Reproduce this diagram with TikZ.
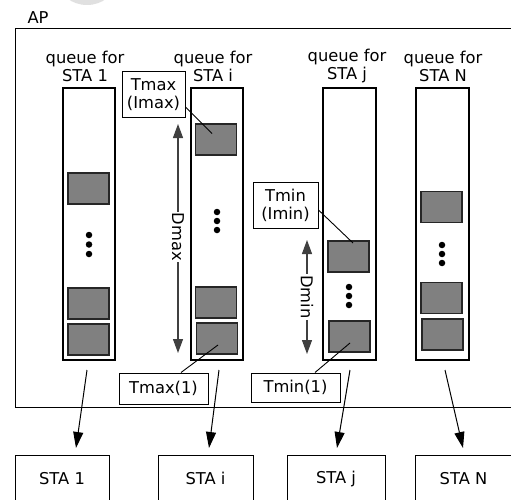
\documentclass[tikz,border=0pt]{standalone}
\usepackage{fontspec}
\setmainfont{DejaVu Sans}
\usetikzlibrary{arrows.meta}
\begin{document}
\begin{tikzpicture}[x=1pt,y=-1pt,
  every node/.style={font=\fontsize{16.3}{18}\selectfont},
  qbox/.style={draw, line width=1.1pt, minimum width=52pt, minimum height=272pt, inner sep=0},
  blk/.style={draw=black!85, line width=1.2pt, fill=black!50, minimum width=41pt, minimum height=31pt, inner sep=0},
  qdot/.style={circle, fill=black, inner sep=0, minimum size=6.5pt},
  lbl/.style={draw, line width=1pt, align=center, inner sep=0},
  qlabel/.style={align=center, inner sep=0},
  stabox/.style={draw, line width=1pt, inner sep=0, minimum height=47pt},
  darr/.style={{Triangle[width=10pt,length=14pt]}-{Triangle[width=10pt,length=14pt]}, black!75, line width=1.2pt},
  sarr/.style={-{Triangle[width=10pt,length=16pt]}, line width=1pt},
  conn/.style={line width=0.9pt}
]
\useasboundingbox (0,0) rectangle (511,500);
\clip (0,0) rectangle (511,500);
\fill[white] (0,0) rectangle (511,500);
\fill[black!12] (87,-18) ellipse (28 and 23);

% AP box
\node[anchor=center, inner sep=0] (ap) at (38,18) {AP};
\node[draw, line width=1pt, minimum width=510pt, minimum height=378pt, inner sep=0] (apbox) at (270,218) {};

% queue labels
\node[qlabel] (l1) at (85,66) {queue for\\STA 1};
\node[qlabel] (li) at (213,66) {queue for\\STA i};
\node[qlabel] (lj) at (347,66) {queue for\\STA j};
\node[qlabel] (lN) at (443,66) {queue for\\STA N};

% queues
\node[qbox] (q1) at (89,224) {};
\node[qbox] (qi) at (217,224) {};
\node[qbox, minimum width=53pt] (qj) at (349.5,224) {};
\node[qbox, minimum width=53pt] (qN) at (442.5,224) {};

% blocks queue 1
\node[blk] (b11) at (88.5,188.5) {};
\node[blk] (b12) at (88.5,303.5) {};
\node[blk] (b13) at (88.5,339.5) {};
\node[qdot] (d11) at (89,235) {};
\node[qdot] (d12) at (89,244.5) {};
\node[qdot] (d13) at (89,254) {};

% blocks queue i
\node[blk] (bi1) at (216,139.5) {};
\node[blk] (bi2) at (216,302.5) {};
\node[blk] (bi3) at (217,338.5) {};
\node[qdot] (di1) at (217,212) {};
\node[qdot] (di2) at (217,221) {};
\node[qdot] (di3) at (217,230) {};

% blocks queue j
\node[blk] (bj1) at (348.5,256.5) {};
\node[blk] (bj2) at (349.5,336.5) {};
\node[qdot] (dj1) at (349,287) {};
\node[qdot] (dj2) at (349,296) {};
\node[qdot] (dj3) at (349,305) {};

% blocks queue N
\node[blk] (bN1) at (441.5,207) {};
\node[blk] (bN2) at (441.5,298) {};
\node[blk] (bN3) at (442.5,334.5) {};
\node[qdot] (dN1) at (442,245) {};
\node[qdot] (dN2) at (442,254) {};
\node[qdot] (dN3) at (442,263) {};

% label boxes
\node[lbl, minimum width=63pt, minimum height=46pt] (tmax) at (153.5,95) {Tmax\\(Imax)};
\node[lbl, minimum width=65pt, minimum height=46pt] (tmin) at (285.5,205) {Tmin\\(Imin)};
\node[lbl, minimum width=89pt, minimum height=31pt] (tmax1) at (163.5,388.5) {Tmax(1)};
\node[lbl, minimum width=89pt, minimum height=29pt] (tmin1) at (295.5,387.5) {Tmin(1)};

\draw[conn] ([yshift=-12pt]tmax.east) -- ([xshift=-4pt,yshift=6pt]bi1.center);
\draw[conn] ([yshift=-5pt]tmin.east) -- ([xshift=4.5pt,yshift=13.5pt]bj1.center);
\draw[conn] ([xshift=17.5pt]tmax1.north) -- ([xshift=1pt,yshift=-6.5pt]bi3.center);
\draw[conn] ([xshift=19.5pt]tmin1.north) -- ([xshift=0.5pt,yshift=-6.5pt]bj2.center);

% D arrows
\coordinate (dmaxT) at (178,124);
\coordinate (dmaxB) at (178,353);
\draw[darr] (dmaxT) -- (dmaxB);
\node[fill=white, rotate=-90, inner sep=1pt] (dmax) at (178,237) {Dmax};
\coordinate (dminT) at (307,240);
\coordinate (dminB) at (307,354);
\draw[darr] (dminT) -- (dminB);
\node[fill=white, rotate=-90, inner sep=1pt] (dmin) at (307,297) {Dmin};

% STA boxes
\node[stabox, minimum width=94pt] (s1) at (62,478.5) {STA 1};
\node[stabox, minimum width=95pt] (si) at (205.5,478.5) {STA i};
\node[stabox, minimum width=98pt] (sj) at (336,478.5) {STA j};
\node[stabox, minimum width=97pt] (sN) at (463.5,478.5) {STA N};

% arrows queue -> STA
\coordinate (a1) at (87,370);
\coordinate (e1) at (76,448);
\coordinate (ai) at (219,370);
\coordinate (ei) at (209,448);
\coordinate (aj) at (350,370);
\coordinate (ej) at (337,448);
\coordinate (aN) at (445,370);
\coordinate (eN) at (463,448);
\draw[sarr] (a1) -- (e1);
\draw[sarr] (ai) -- (ei);
\draw[sarr] (aj) -- (ej);
\draw[sarr] (aN) -- (eN);
\end{tikzpicture}
\end{document}
